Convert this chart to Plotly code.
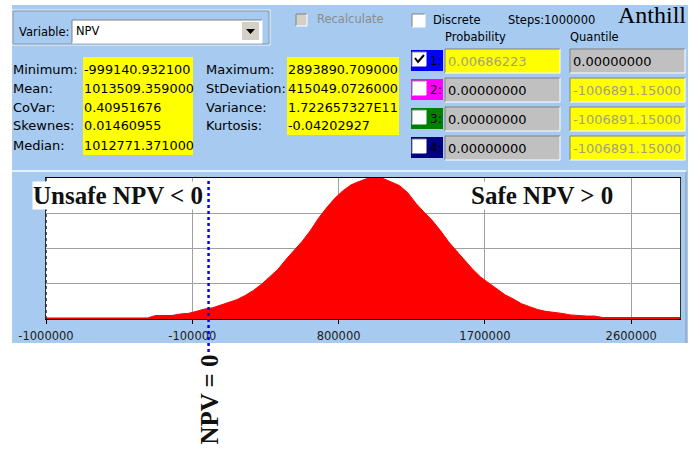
import plotly.graph_objects as go

# ---- histogram of simulated NPV (1,000,000 steps) ----
bin_start = -1000000
bin_width = 50000
# bin counts, in thousands of steps
counts_k = [
    0.36, 0.36, 0.36, 0.36, 0.36, 0.36, 0.36, 0.36, 0.36, 0.36,
    0.36, 0.36, 0.36, 1.2, 1.2, 1.2, 1.7, 1.9, 2.6, 3.4,
    3.8, 4.8, 5.6, 6.6, 8.0, 9.7, 11.8, 14.2, 16.8, 20.2,
    23.2, 26.4, 30.0, 34.2, 37.8, 41.0, 43.6, 45.6, 46.8, 47.8,
    48.0, 47.8, 46.6, 45.4, 43.0, 39.4, 36.4, 33.6, 30.2, 26.4,
    23.2, 19.9, 16.9, 14.2, 12.1, 10.1, 8.2, 6.8, 5.2, 4.2,
    3.2, 2.6, 2.3, 1.9, 1.4, 1.1, 1.0, 1.0, 0.5, 0.5,
    0.5, 0.5, 0.5, 0.5, 0.5, 0.5, 0.5, 0.5,
]
bin_centers = [bin_start + bin_width * (i + 0.5) for i in range(len(counts_k))]
bin_end = bin_start + bin_width * len(counts_k)

x_ticks = [-1000000, -100000, 800000, 1700000, 2600000]
x_range = [-1000000, 2900000]
y_range = [0, 48]
npv_zero = 0

# ---- statistics panel ----
stat_labels_1 = ["Minimum:", "Mean:", "CoVar:", "Skewnes:", "Median:"]
stat_values_1 = ["-999140.932100", "1013509.359000", "0.40951676", "0.01460955", "1012771.371000"]
stat_labels_2 = ["Maximum:", "StDeviation:", "Variance:", "Kurtosis:"]
stat_values_2 = ["2893890.709000", "415049.0726000", "1.722657327E11", "-0.04202927"]

marker_ids = ["1:", "2:", "3:", "4:"]
marker_colors = ["#0000FF", "#FF00FF", "#008000", "#000080"]
marker_checked = [True, False, False, False]
probabilities = ["0.00686223", "0.00000000", "0.00000000", "0.00000000"]
quantiles = ["0.00000000", "-1006891.15000", "-1006891.15000", "-1006891.15000"]
prob_is_input = [True, False, False, False]

# ---- page geometry (pixels) ----
W, H = 699, 449
PL, PR, PT, PB = 46, 680, 178, 319


def px(x):
    return (x - PL) / (PR - PL)


def py(y):
    return (PB - y) / (PB - PT)


shapes = []
annotations = []

PANEL = "#A6CAF0"
BTN = "#D4D0C8"
FIELD_GRAY = "#C0C0C0"
YELLOW = "#FFFF00"
DIM = "#A3A37A"


def rect(x0, y0, x1, y1, fill, line=None, lw=1, layer="above"):
    shapes.append(dict(
        type="rect", xref="paper", yref="paper",
        x0=px(x0), x1=px(x1), y0=py(y1), y1=py(y0),
        fillcolor=fill, layer=layer,
        line=dict(color=line or fill, width=lw if line else 0),
    ))


def hline(x0, x1, y, color, lw=1, layer="above"):
    shapes.append(dict(type="line", xref="paper", yref="paper",
                       x0=px(x0), x1=px(x1), y0=py(y), y1=py(y),
                       line=dict(color=color, width=lw), layer=layer))


def vline(x, y0, y1, color, lw=1, layer="above"):
    shapes.append(dict(type="line", xref="paper", yref="paper",
                       x0=px(x), x1=px(x), y0=py(y0), y1=py(y1),
                       line=dict(color=color, width=lw), layer=layer))


def sunken(x0, y0, x1, y1, fill):
    rect(x0, y0, x1, y1, fill)
    hline(x0, x1, y0, "#808080")
    vline(x0, y0, y1, "#808080")
    hline(x0, x1, y1, "#FFFFFF")
    vline(x1, y0, y1, "#FFFFFF")


def text(s, x, y, size=13, color="#000000", family="DejaVu Sans", anchor="left", **kw):
    annotations.append(dict(
        text=s, xref="paper", yref="paper", x=px(x), y=py(y),
        xanchor=anchor, yanchor="middle", showarrow=False,
        font=dict(family=family, size=size, color=color), **kw,
    ))


# panel background, with a white plotting area
rect(12, 5, 688, 343, PANEL, layer="below")
hline(12, 686, 171, "#E6F0FB", lw=2, layer="below")
vline(686, 172, 343, "#9098A0", layer="below")
rect(PL, PT, PR, PB, "#FFFFFF", layer="below")

# variable selector group
rect(12, 10, 270, 45, "rgba(0,0,0,0)", line="#F2F6FB", lw=1)
rect(13, 11, 269, 44, "rgba(0,0,0,0)", line="#8899AA", lw=1)
text("Variable:", 17, 32, size=11.5)
sunken(72, 20, 262, 43, "#FFFFFF")
rect(242, 22, 259, 40, BTN)
shapes.append(dict(type="path", xref="paper", yref="paper",
                   path=f"M {px(246)} {py(29)} L {px(255)} {py(29)} L {px(250.5)} {py(34)} Z",
                   fillcolor="#000000", line=dict(width=0)))
text("NPV", 74, 31, size=11.5)

# recalculate / discrete / steps
sunken(296, 14, 307, 26, BTN)
text("Recalculate", 315, 19, size=11.5, color="#8C8C8C")
sunken(412, 14, 425, 27, "#FFFFFF")
text("Discrete", 431, 20, size=11.5)
text("Steps:1000000", 506, 20, size=11.5)
text("Anthill", 616, 15, size=24, family="Liberation Serif")
text("Probability", 443, 37, size=11.5)
text("Quantile", 568, 37, size=11.5)

# summary statistics
rect(83, 57, 193, 155, YELLOW)
rect(287, 57, 399, 135, YELLOW)
stat_rows = [69, 88, 107, 126, 145]
for lab, val, y in zip(stat_labels_1, stat_values_1, stat_rows):
    text(lab, 11, y)
    text(val, 82, y, size=12.8)
for lab, val, y in zip(stat_labels_2, stat_values_2, stat_rows):
    text(lab, 204, y)
    text(val, 286, y, size=12.8)

# probability / quantile markers
row_centers = [61, 90, 119, 148]
for i, yc in enumerate(row_centers):
    y0, y1 = yc - 12, yc + 12
    rect(411, y0 + 1, 443, y1 - 2, marker_colors[i])
    sunken(412, y0 + 3, 426, y0 + 17, "#FFFFFF")
    if marker_checked[i]:
        shapes.append(dict(type="path", xref="paper", yref="paper",
                           path=f"M {px(415)} {py(y0 + 9)} L {px(418)} {py(y0 + 13)} L {px(424)} {py(y0 + 6)}",
                           line=dict(color="#000000", width=2)))
    text(marker_ids[i], 428, yc, size=12)
    pfill = YELLOW if prob_is_input[i] else FIELD_GRAY
    qfill = FIELD_GRAY if prob_is_input[i] else YELLOW
    sunken(445, y0, 560, y1, pfill)
    sunken(570, y0, 685, y1, qfill)
    text(probabilities[i], 446, yc, color=DIM if prob_is_input[i] else "#000000")
    text(quantiles[i], 571, yc, color="#000000" if prob_is_input[i] else DIM)

# NPV = 0 reference line, running from the plot top down below the panel
shapes.append(dict(type="line", xref="x", yref="paper", x0=npv_zero, x1=npv_zero,
                   y0=py(352), y1=1, line=dict(color="#0000FF", width=2.5, dash="dot"),
                   layer="above"))
# dotted marker at the minimum
shapes.append(dict(type="line", xref="x", yref="paper", x0=x_range[0], x1=x_range[0],
                   y0=0, y1=1, line=dict(color="#1A1A50", width=1.5, dash="dot"),
                   layer="above"))

label_font = dict(family="Liberation Serif", size=25, color="#111111")
annotations.append(dict(text="<b>Unsafe NPV &lt; 0</b>", xref="paper", yref="paper",
                        x=px(118), y=py(195), xanchor="center", yanchor="middle",
                        showarrow=False, font=label_font, bgcolor="#FFFFFF", borderpad=0))
annotations.append(dict(text="<b>Safe NPV &gt; 0</b>", xref="paper", yref="paper",
                        x=px(542), y=py(195), xanchor="center", yanchor="middle",
                        showarrow=False, font=label_font, bgcolor="#FFFFFF", borderpad=0))
annotations.append(dict(text="<b>NPV = 0</b>", xref="x", yref="paper",
                        x=npv_zero, y=py(400), xanchor="center", yanchor="middle",
                        textangle=-90, showarrow=False, font=label_font))

# filled distribution outline through the bin counts
hist_x = [bin_start] + bin_centers + [bin_end]
hist_y = [counts_k[0]] + counts_k + [counts_k[-1]]
fig = go.Figure(go.Scatter(
    x=hist_x, y=hist_y, mode="lines", fill="tozeroy",
    fillcolor="#FF0000", line=dict(color="#FF0000", width=1, shape="linear"),
    hoverinfo="skip",
))

fig.update_layout(
    width=W, height=H, autosize=False,
    margin=dict(l=PL, r=W - PR, t=PT, b=H - PB, pad=0),
    paper_bgcolor="#FFFFFF", plot_bgcolor="#FFFFFF",
    showlegend=False,
    shapes=shapes, annotations=annotations,
    xaxis=dict(
        range=x_range, tickvals=x_ticks, ticktext=[str(v) for v in x_ticks],
        showgrid=True, gridcolor="#A0A0A0", gridwidth=1, zeroline=False,
        showline=True, linecolor="#000000", linewidth=1, mirror=True,
        ticks="outside", ticklen=4, tickcolor="#000000", ticklabelstandoff=2,
        tickfont=dict(family="DejaVu Sans", size=11.5, color="#202020"),
        fixedrange=True,
    ),
    yaxis=dict(
        range=y_range, dtick=12, showticklabels=False,
        showgrid=True, gridcolor="#A0A0A0", gridwidth=1, zeroline=False,
        showline=True, linecolor="#303030", linewidth=1, mirror=True,
        ticks="", fixedrange=True,
    ),
)

fig.write_html("out.html")
